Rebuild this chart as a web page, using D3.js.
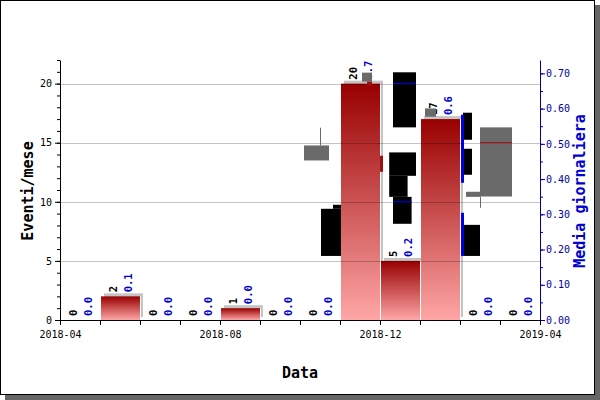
<!DOCTYPE html>
<html>
<head>
<meta charset="utf-8">
<script src="https://cdn.jsdelivr.net/npm/d3@7"></script>
<style>
  html, body { margin: 0; padding: 0; background: #fff; }
  svg { display: block; }
  text { font-family: "DejaVu Sans Mono", monospace; }
</style>
</head>
<body>
<svg id="chart" width="600" height="400"></svg>
<script>
// ---------- data ----------
const months = ["2018-04","2018-05","2018-06","2018-07","2018-08","2018-09",
                "2018-10","2018-11","2018-12","2019-01","2019-02","2019-03"];
const counts = [0, 2, 0, 0, 1, 0, 0, 20, 5, 17, 0, 0];
const dailyAvg = [0.0, 0.1, 0.0, 0.0, 0.0, 0.0, 0.0, 0.7, 0.2, 0.6, 0.0, 0.0];
const xTickLabels = ["2018-04", "2018-08", "2018-12", "2019-04"];
const xTickIndex = [0, 4, 8, 12];
const leftTicks = [0, 5, 10, 15, 20];
const rightTicks = [0, 0.1, 0.2, 0.3, 0.4, 0.5, 0.6, 0.7];
const xTitle = "Data";
const yLeftTitle = "Eventi/mese";
const yRightTitle = "Media giornaliera";
// stray image blocks in the reference (month index from/to, left-axis value from/to, kind)
const glitchBoxes = [
  [6.10, 6.725, 13.50, 14.77, "g"],
  [6.525, 7.025, 5.42, 9.41, "k"],
  [6.825, 7.025, 9.41, 9.75, "k"],
  [8.325, 8.90, 16.30, 20.96, "k"],
  [8.23, 8.90, 12.20, 14.18, "k"],
  [8.23, 8.69, 10.42, 12.20, "k"],
  [8.325, 8.79, 8.14, 10.42, "k"],
  [8.325, 8.90, 19.95, 20.05, "b"],
  [8.325, 8.79, 9.95, 10.05, "b"],
  [10.075, 10.30, 15.25, 17.54, "k"],
  [10.075, 10.30, 12.29, 14.49, "k"],
  [10.025, 10.10, 11.61, 17.37, "b"],
  [10.10, 10.50, 5.42, 8.05, "k"],
  [10.025, 10.10, 5.42, 9.07, "b"],
  [10.50, 11.30, 10.45, 16.30, "g"],
  [10.15, 10.50, 10.42, 10.85, "g"],
  [10.50, 11.30, 14.95, 15.05, "r"],
  [7.55, 7.80, 20.17, 20.93, "g"],
  [7.675, 7.80, 19.83, 20.17, "r"],
  [8.00, 8.075, 12.54, 13.90, "r"],
  [9.125, 9.40, 17.20, 17.90, "g"]
];
const glitchWicks = [
  [6.5, 14.77, 16.27],
  [10.5, 9.49, 10.45]
];

// ---------- layout ----------
const svg = d3.select("#chart");
const L = 60, R = 540, T = 60, B = 320;
const x = d3.scaleLinear().domain([0, 12]).range([L, R]);
const y = d3.scaleLinear().domain([0, 22]).range([B, T]);
const y2 = d3.scaleLinear().domain([0, 0.738]).range([B, T]);
const navy = "#00009c";
const blue = "#0000d0";

// frame + shadow
svg.append("rect").attr("x", 595).attr("y", 5).attr("width", 5).attr("height", 395).attr("fill", "#666");
svg.append("rect").attr("x", 5).attr("y", 395).attr("width", 595).attr("height", 5).attr("fill", "#666");
svg.append("rect").attr("x", 0.5).attr("y", 0.5).attr("width", 594).attr("height", 394)
  .attr("fill", "#fff").attr("stroke", "#000").attr("stroke-width", 1);

// gradient
const defs = svg.append("defs");
const grad = defs.append("linearGradient").attr("id", "barGrad")
  .attr("x1", 0).attr("y1", 0).attr("x2", 0).attr("y2", 1);
grad.append("stop").attr("offset", "0%").attr("stop-color", "#980000");
grad.append("stop").attr("offset", "100%").attr("stop-color", "#ffa6a6");

// bars
const bars = svg.append("g");
counts.forEach((c, i) => {
  if (c <= 0) return;
  const x0 = x(i), x1 = x(i + 1), yt = y(c);
  bars.append("rect").attr("x", x0 + 4).attr("y", yt - 3)
    .attr("width", x1 - x0 - 1).attr("height", B - yt + 3 - 3).attr("fill", "#c4c4c4");
  bars.append("rect").attr("x", x0 + 1).attr("y", yt)
    .attr("width", x1 - x0 - 1).attr("height", B - yt)
    .attr("fill", "url(#barGrad)");
  bars.append("line").attr("x1", x1 + 0.5).attr("x2", x1 + 0.5).attr("y1", yt).attr("y2", B)
    .attr("stroke", "#fff").attr("stroke-width", 1);
});

// grid (drawn over bars, translucent)
svg.append("g").selectAll("line").data(leftTicks.filter(d => d > 0)).join("line")
  .attr("x1", L).attr("x2", R)
  .attr("y1", d => Math.round(y(d)) + 0.5).attr("y2", d => Math.round(y(d)) + 0.5)
  .attr("stroke", "#000").attr("stroke-opacity", 0.23);

// value labels
const lab = svg.append("g").style("font-size", "10.5px").style("font-weight", "bold");
counts.forEach((c, i) => {
  const cx = (x(i) + x(i + 1)) / 2;
  const ys = y(c) - 4;
  lab.append("text").attr("transform", `translate(${cx - 7},${ys}) rotate(-90)`)
    .attr("dominant-baseline", "central").attr("fill", "#000").text(c);
  lab.append("text").attr("transform", `translate(${cx + 8},${ys}) rotate(-90)`)
    .attr("dominant-baseline", "central").attr("fill", blue).text(dailyAvg[i].toFixed(1));
});

// glitches
const gcol = { k: "#000", g: "#6a6a6a", b: "#0000e0", r: "#a01010" };
svg.append("g").selectAll("rect").data(glitchBoxes).join("rect")
  .attr("x", d => x(d[0])).attr("width", d => x(d[1]) - x(d[0]))
  .attr("y", d => y(d[3])).attr("height", d => y(d[2]) - y(d[3]))
  .attr("fill", d => gcol[d[4]]);
svg.append("g").selectAll("line").data(glitchWicks).join("line")
  .attr("x1", d => Math.round(x(d[0])) + 0.5).attr("x2", d => Math.round(x(d[0])) + 0.5)
  .attr("y1", d => y(d[1])).attr("y2", d => y(d[2])).attr("stroke", "#6a6a6a");

// axes
function styleAxis(g, color) {
  g.select(".domain").attr("stroke", color);
  g.selectAll(".tick line").attr("stroke", color);
  g.selectAll(".tick text").attr("fill", color)
    .style("font-family", "'DejaVu Sans Mono', monospace").style("font-size", "10px");
}
// left minor
svg.append("g").attr("transform", `translate(${L},0)`)
  .call(d3.axisLeft(y).tickValues(d3.range(0, 23, 1)).tickSize(3).tickFormat(""))
  .call(g => { g.select(".domain").remove(); g.selectAll(".tick line").attr("stroke", "#000"); });
svg.append("g").attr("transform", `translate(${L},0)`)
  .call(d3.axisLeft(y).tickValues(leftTicks).tickSize(5).tickPadding(3).tickSizeOuter(0))
  .call(g => styleAxis(g, "#000"));
// right minor
svg.append("g").attr("transform", `translate(${R},0)`)
  .call(d3.axisRight(y2).tickValues(d3.range(0, 15).map(k => k * 0.05)).tickSize(3).tickFormat(""))
  .call(g => { g.select(".domain").remove(); g.selectAll(".tick line").attr("stroke", navy); });
svg.append("g").attr("transform", `translate(${R},0)`)
  .call(d3.axisRight(y2).tickValues(rightTicks).tickSize(5).tickPadding(1).tickSizeOuter(0)
    .tickFormat(d3.format(".2f")))
  .call(g => styleAxis(g, navy));
// bottom
svg.append("g").attr("transform", `translate(0,${B})`)
  .call(d3.axisBottom(x).tickValues(d3.range(0, 13)).tickSize(5).tickPadding(6).tickSizeOuter(0)
    .tickFormat(d => { const k = xTickIndex.indexOf(d); return k >= 0 ? xTickLabels[k] : ""; }))
  .call(g => styleAxis(g, "#000"));

// titles
svg.append("text").attr("x", 300).attr("y", 378).attr("text-anchor", "middle")
  .style("font-size", "15px").style("font-weight", "bold").attr("fill", "#000").text(xTitle);
svg.append("text").attr("transform", `translate(28,191) rotate(-90)`).attr("text-anchor", "middle")
  .attr("dominant-baseline", "central")
  .style("font-size", "15px").style("font-weight", "bold").attr("fill", "#000").text(yLeftTitle);
svg.append("text").attr("transform", `translate(580,191) rotate(-90)`).attr("text-anchor", "middle")
  .attr("dominant-baseline", "central")
  .style("font-size", "15px").style("font-weight", "bold").attr("fill", blue).text(yRightTitle);
</script>
</body>
</html>
